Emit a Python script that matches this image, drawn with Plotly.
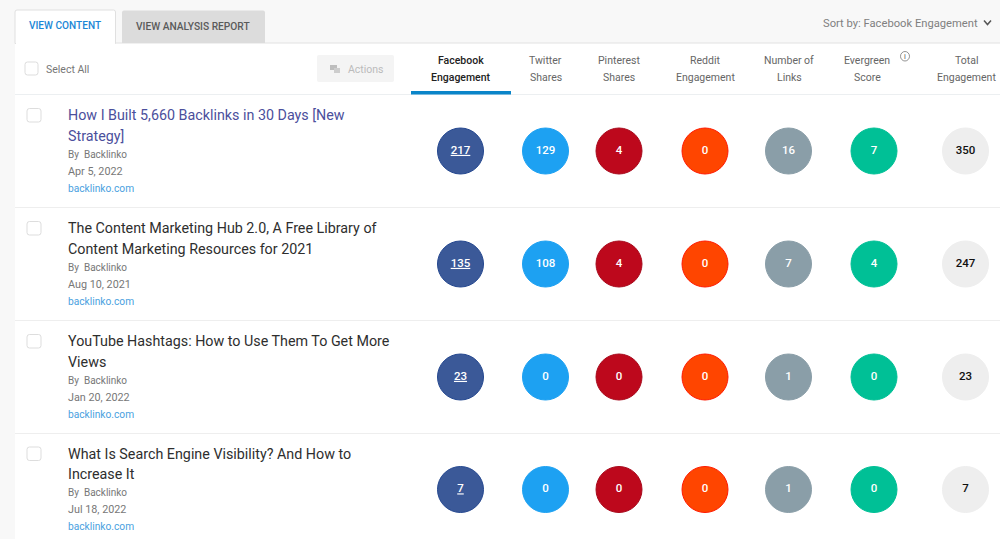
import plotly.graph_objects as go

titles = [
    "How I Built 5,660 Backlinks in 30 Days [New<br>Strategy]",
    "The Content Marketing Hub 2.0, A Free Library of<br>Content Marketing Resources for 2021",
    "YouTube Hashtags: How to Use Them To Get More<br>Views",
    "What Is Search Engine Visibility? And How to<br>Increase It",
]
dates = ["Apr 5, 2022", "Aug 10, 2021", "Jan 20, 2022", "Jul 18, 2022"]
author = "By  Backlinko"
domain = "backlinko.com"

facebook = [217, 135, 23, 7]
twitter = [129, 108, 0, 0]
pinterest = [4, 4, 0, 0]
reddit = [0, 0, 0, 0]
links = [16, 7, 1, 1]
evergreen = [7, 4, 0, 0]
total = [350, 247, 23, 7]

headers = ["Facebook<br>Engagement", "Twitter<br>Shares", "Pinterest<br>Shares", "Reddit<br>Engagement",
           "Number of<br>Links", "Evergreen<br>Score", "Total<br>Engagement"]

col_x = [460.5, 545.5, 619, 705, 788.5, 874, 965.5]
header_x = [461, 545.5, 619, 705, 789, 867, 966]
row_y = [151, 264, 377, 489.5]
col_fill = ["#3b5998", "#1da1f2", "#bd081c", "#ff4500", "#8a9ea8", "#00c096", "#eeeeee"]
col_line = ["#24478f", "#1da1f2", "#a80a1c", "#ff1a00", "#8a9ea8", "#00c096", "#eeeeee"]
FONT = "Roboto"

fig = go.Figure()
shapes = []
ann = []


def rect(x0, y0, x1, y1, fill, line=None, lw=1, layer="below"):
    shapes.append(dict(type="rect", x0=x0, y0=y0, x1=x1, y1=y1, fillcolor=fill, layer=layer,
                       line=dict(color=line or fill, width=lw if line else 0)))


def rrect(x0, y0, x1, y1, r, fill, line=None, lw=1, top_only=False):
    b = f"L{x1},{y1} L{x0},{y1}" if top_only else (
        f"L{x1},{y1-r} Q{x1},{y1} {x1-r},{y1} L{x0+r},{y1} Q{x0},{y1} {x0},{y1-r}")
    p = f"M{x0},{y0+r} Q{x0},{y0} {x0+r},{y0} L{x1-r},{y0} Q{x1},{y0} {x1},{y0+r} {b} Z"
    shapes.append(dict(type="path", path=p, fillcolor=fill, layer="below",
                       line=dict(color=line or fill, width=lw if line else 0)))


def text(x, y, s, size=11, color="#666666", anchor="left", weight=400, lh=17):
    lines = s.split("<br>")
    for k, line in enumerate(lines):
        ann.append(dict(x=x, y=y + (k - (len(lines) - 1) / 2) * lh, text=line, showarrow=False,
                        xanchor=anchor, yanchor="middle", align=anchor, borderpad=0, borderwidth=0,
                        font=dict(family=FONT, size=size, color=color, weight=weight)))


# page frame
rect(15, 43, 1000, 539, "#ffffff")
rect(15, 42.5, 1000, 43.5, "#e2e2e2")
rect(15, 94, 1000, 95, "#eceff1")
rrect(15, 10, 115.5, 43.5, 2, "#ffffff", "#e0e0e0", 1, top_only=True)
rect(16, 42, 115, 45, "#ffffff")
rrect(122, 10.5, 265, 43, 2, "#dcdcdc", top_only=True)
rect(411, 91, 511, 94.5, "#0a85c9")
for y in row_y[:-1]:
    rect(15, y + 56, 1000, y + 57, "#eeeeee")

# header
text(29, 25.5, "VIEW CONTENT", 10.1, "#1b87d6", weight=500)
text(136, 26, "VIEW ANALYSIS REPORT", 10.2, "#5a5a5a", weight=500)
text(823, 23, "Sort by: Facebook Engagement", 11.2, "#808080")
shapes.append(dict(type="path", path="M984,20.5 L987.5,24.5 L991,20.5", line=dict(color="#555555", width=1.5)))
rrect(25, 62, 38, 75, 2.5, "#ffffff", "#dddddd", 1)
text(46, 69, "Select All", 10.5, "#777777")
rrect(317, 55, 394, 82, 2, "#f4f4f4")
rect(330, 65, 337, 70, "#bdbdbd")
rect(334, 68, 340, 73, "#cdcdcd")
text(348, 69, "Actions", 10.5, "#bbbbbb")
for i, (x, h) in enumerate(zip(header_x, headers)):
    text(x, 68.5, h, 10.5, "#222222" if i == 0 else "#666666", "center", 500 if i == 0 else 400)
shapes.append(dict(type="circle", x0=900.5, y0=51.5, x1=909.5, y1=61, line=dict(color="#777777", width=0.8)))
text(905, 56, "i", 7.5, "#555555", "center")

# rows
for r, y in enumerate(row_y):
    rrect(27, y - 42.5, 41, y - 29, 2.5, "#ffffff", "#dddddd", 1)
    text(68, y - 25.5, titles[r], 14.3, "#4b4f9c" if r == 0 else "#2e2e2e", lh=20.5)
    text(68, y + 3, author, 10, "#777777")
    text(68, y + 20, dates[r], 10.8, "#777777")
    text(68, y + 37, domain, 10.2, "#4a9fe0")

columns = [facebook, twitter, pinterest, reddit, links, evergreen, total]
for i, vals in enumerate(columns):
    labels = [f"<u>{v}</u>" for v in vals] if i == 0 else [str(v) for v in vals]
    fig.add_trace(go.Scatter(
        x=[col_x[i]] * len(row_y), y=row_y, mode="markers+text", text=labels,
        textposition="middle center",
        textfont=dict(family=FONT, size=11.5, color="#111111" if i == 6 else "#ffffff", weight=500),
        marker=dict(size=46, color=col_fill[i], line=dict(color=col_line[i], width=1)),
        hoverinfo="skip", showlegend=False, cliponaxis=False))

fig.update_layout(
    width=1000, height=539, margin=dict(l=0, r=0, t=0, b=0),
    paper_bgcolor="#f8f8f8", plot_bgcolor="rgba(0,0,0,0)",
    xaxis=dict(range=[0, 1000], visible=False, fixedrange=True),
    yaxis=dict(range=[539, 0], visible=False, fixedrange=True),
    shapes=shapes, annotations=ann,
)
fig.write_html("out.html", config={"displayModeBar": False},
               post_script="document.body.style.margin='0';document.body.style.overflow='hidden';")
